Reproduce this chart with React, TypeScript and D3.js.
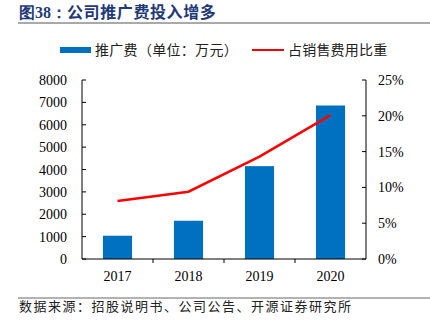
import React from "react";
import * as d3 from "d3";

const years = ["2017", "2018", "2019", "2020"];
const promoFee = [1040, 1710, 4150, 6860];
const promoRatio = [0.081, 0.094, 0.143, 0.201];
const leftTicks = [0, 1000, 2000, 3000, 4000, 5000, 6000, 7000, 8000];
const rightTicks = [0, 0.05, 0.1, 0.15, 0.2, 0.25];

const W = 430, H = 325;
const plot = { left: 82, right: 366, top: 80, bottom: 259 };

export default function App() {
  const xOuter = d3.scaleBand<string>().domain(years).range([plot.left, plot.right]);
  const yL = d3.scaleLinear().domain([0, 8000]).range([plot.bottom, plot.top]);
  const yR = d3.scaleLinear().domain([0, 0.25]).range([plot.bottom, plot.top]);
  const line = d3.line<number>()
    .x((_, i) => (xOuter(years[i]) as number) + xOuter.bandwidth() / 2)
    .y((d) => yR(d));
  const serif = "'Liberation Serif', 'Times New Roman', serif";
  const cjk = "'Noto Sans CJK SC', sans-serif";
  const bw = xOuter.bandwidth() * 0.41;
  return (
    <svg width={W} height={H} style={{ position: "absolute", left: 0, top: 0, background: "#fff" }}>
      <text x={19} y={18} fontFamily={cjk} fontWeight="bold" fontSize={16} fill="#1F3A7A">
        <tspan fontFamily={serif}>图38：</tspan><tspan letterSpacing={0.6}>公司推广费投入增多</tspan>
      </text>
      <line x1={18} x2={430} y1={23} y2={23} stroke="#555" strokeWidth={1} />

      {/* legend */}
      <rect x={60} y={47} width={31} height={6} fill="#0070C0" />
      <text x={95} y={55} fontFamily={cjk} fontSize={14} fill="#222" letterSpacing={0.3}>推广费（单位：万元）</text>
      <line x1={252} x2={284} y1={50} y2={50} stroke="#FF0000" strokeWidth={2} />
      <text x={288} y={55} fontFamily={cjk} fontSize={14} fill="#222" letterSpacing={0.2}>占销售费用比重</text>

      {/* bars */}
      {years.map((yr, i) => {
        const cx = (xOuter(yr) as number) + xOuter.bandwidth() / 2;
        return (
          <rect key={yr} x={cx - bw / 2} y={yL(promoFee[i])} width={bw} height={plot.bottom - yL(promoFee[i])} fill="#0070C0" />
        );
      })}

      {/* line */}
      <path d={line(promoRatio) || ""} fill="none" stroke="#FF0000" strokeWidth={2.5} />

      {/* left axis */}
      <line x1={plot.left} x2={plot.left} y1={plot.top} y2={plot.bottom} stroke="#000" />
      {leftTicks.map((t) => (
        <g key={t}>
          <line x1={plot.left} x2={plot.left + 4} y1={yL(t)} y2={yL(t)} stroke="#000" />
          <text x={67} y={yL(t) + 5} textAnchor="end" fontFamily={serif} fontSize={14} fill="#000">{t}</text>
        </g>
      ))}
      {/* right axis */}
      <line x1={plot.right} x2={plot.right} y1={plot.top} y2={plot.bottom} stroke="#000" />
      {rightTicks.map((t) => (
        <g key={t}>
          <line x1={plot.right - 4} x2={plot.right} y1={yR(t)} y2={yR(t)} stroke="#000" />
          <text x={378} y={yR(t) + 5} fontFamily={serif} fontSize={14} fill="#000">{d3.format(".0%")(t)}</text>
        </g>
      ))}
      {/* x axis */}
      <line x1={plot.left} x2={plot.right} y1={plot.bottom} y2={plot.bottom} stroke="#000" />
      {years.slice(1).map((yr) => (
        <line key={yr} x1={xOuter(yr)} x2={xOuter(yr)} y1={plot.bottom} y2={plot.bottom + 4} stroke="#000" />
      ))}
      {years.map((yr) => (
        <text key={yr} x={(xOuter(yr) as number) + xOuter.bandwidth() / 2} y={281} textAnchor="middle" fontFamily={serif} fontSize={14} fill="#000">{yr}</text>
      ))}

      <line x1={18} x2={430} y1={298} y2={298} stroke="#666" strokeWidth={1} />
      <text x={19} y={311} fontFamily={cjk} fontSize={13} fill="#222" letterSpacing={1.5}>数据来源：招股说明书、公司公告、开源证券研究所</text>
    </svg>
  );
}
